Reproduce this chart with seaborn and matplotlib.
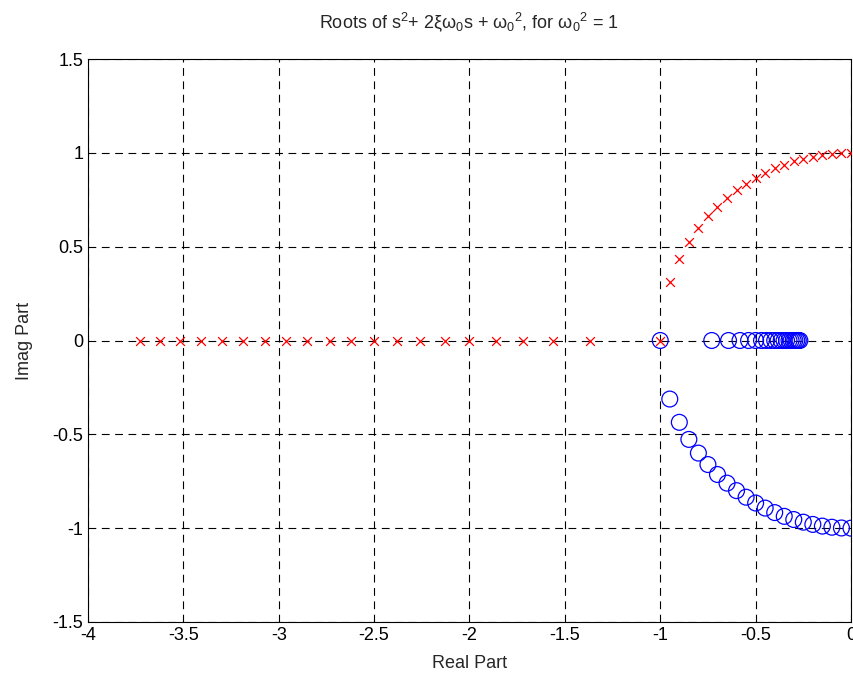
import matplotlib
matplotlib.use("Agg")
import matplotlib.pyplot as plt
import seaborn as sns
import pandas as pd

# damping ratio values (xi) used for the two root branches
xi_under = [0.00, 0.05, 0.10, 0.15, 0.20, 0.25, 0.30, 0.35, 0.40, 0.45, 0.50,
            0.55, 0.60, 0.65, 0.70, 0.75, 0.80, 0.85, 0.90, 0.95, 1.00]
imag_under = [1.000, 0.999, 0.995, 0.989, 0.980, 0.968, 0.954, 0.937, 0.917, 0.893, 0.866,
              0.835, 0.800, 0.760, 0.714, 0.661, 0.600, 0.527, 0.436, 0.312, 0.000]

# overdamped roots (real axis)
real_fast = [-1.37, -1.56, -1.72, -1.86, -2.00, -2.13, -2.26, -2.38, -2.50, -2.62,
             -2.73, -2.85, -2.96, -3.07, -3.19, -3.30, -3.41, -3.52, -3.62, -3.73]
real_slow = [-0.730, -0.642, -0.582, -0.537, -0.500, -0.469, -0.443, -0.420, -0.400, -0.382,
             -0.366, -0.351, -0.338, -0.325, -0.314, -0.303, -0.294, -0.284, -0.276, -0.268]

xticks = [-4, -3.5, -3, -2.5, -2, -1.5, -1, -0.5, 0]
yticks = [-1.5, -1, -0.5, 0, 0.5, 1, 1.5]

r1 = pd.DataFrame({
    "re": [-x for x in xi_under] + real_fast,
    "im": imag_under + [0.0] * len(real_fast),
})
r2 = pd.DataFrame({
    "re": [-x for x in xi_under] + real_slow,
    "im": [-v for v in imag_under] + [0.0] * len(real_slow),
})

sns.set_style("white")
plt.rcParams["font.family"] = ["Liberation Sans", "DejaVu Sans"]
plt.rcParams["mathtext.fontset"] = "custom"
plt.rcParams["mathtext.rm"] = "Liberation Sans"
plt.rcParams["mathtext.default"] = "regular"

fig = plt.figure(figsize=(8.54, 6.77), dpi=100)
ax = fig.add_axes([88 / 854, 1 - 622 / 677, 763 / 854, 563 / 677])

sns.scatterplot(data=r2, x="re", y="im", ax=ax, marker="o", s=130,
                facecolors="none", edgecolor="blue", linewidth=0.9, zorder=3)
sns.scatterplot(data=r1, x="re", y="im", ax=ax, marker="x", s=40,
                color="red", linewidth=0.9, zorder=4)

ax.set_xlim(-4, 0)
ax.set_ylim(-1.5, 1.5)
ax.set_xticks(xticks)
ax.set_xticklabels([f"{t:g}" for t in xticks])
ax.set_yticks(yticks)
ax.set_yticklabels([f"{t:g}" for t in yticks])
ax.tick_params(direction="in", length=5, width=0.8, labelsize=13, colors="black")
ax.grid(True, color="black", linestyle=(0, (7, 5)), linewidth=0.8)
for sp in ax.spines.values():
    sp.set_color("black")
    sp.set_linewidth(0.8)

ax.set_xlabel("Real Part", fontsize=13, labelpad=8)
ax.set_ylabel("Imag Part", fontsize=13, labelpad=14)
ax.set_title(r"Roots of s$^2$+ 2ξω$_0$s + ω$_0$$^2$, for ω$_0$$^2$ = 1",
             fontsize=13, pad=22)

fig.savefig("out.png", dpi=100)
